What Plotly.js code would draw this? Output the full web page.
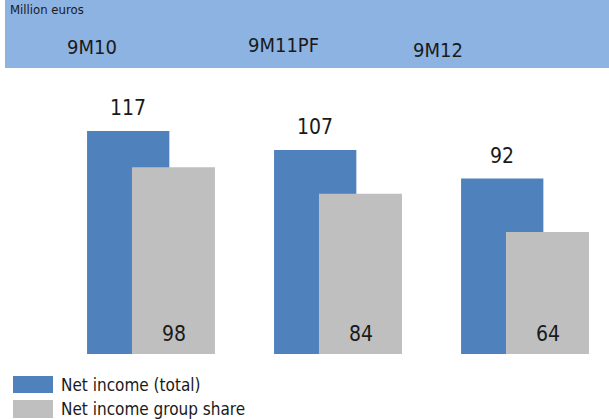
<!DOCTYPE html>
<html><head><meta charset="utf-8">
<script src="https://cdn.plot.ly/plotly-3.0.1.min.js"></script>
<style>html,body{margin:0;padding:0;background:#fff;}#chart{width:609px;height:419px;}</style>
</head><body><div id="chart"></div>
<script>
var categories = ['9M10', '9M11PF', '9M12'];
var seriesNames = ['Net income (total)', 'Net income group share'];
var totalValues = [117, 107, 92];
var groupShareValues = [98, 84, 64];
var unitLabel = 'Million euros';

var FONT = '"DejaVu Sans Condensed", "Liberation Sans Narrow", sans-serif';
var BLUE = '#4f81bd', GRAY = '#bfbfbf', TXT = '#1a1a1a';

var traces = [
  {type:'bar', x:categories, y:totalValues, name:seriesNames[0], marker:{color:BLUE},
   offset:-0.342, width:0.44, hoverinfo:'skip'},
  {type:'bar', x:categories, y:groupShareValues, name:seriesNames[1], marker:{color:GRAY},
   offset:-0.102, width:0.444, hoverinfo:'skip'}
];

var headerX = [92, 283, 438];
var headerY = [47, 45, 50];
var ann = [];
categories.forEach(function(c, i){
  ann.push({xref:'paper', yref:'paper', x:headerX[i]/609, y:1-headerY[i]/419, text:c, showarrow:false,
    xanchor:'center', yanchor:'middle', font:{family:FONT, size:20, color:TXT}});
  ann.push({x:c, y:totalValues[i], text:String(totalValues[i]), showarrow:false, xshift:-23, yshift:9,
    xanchor:'center', yanchor:'bottom', font:{family:FONT, size:21, color:TXT}});
  ann.push({x:c, y:0, text:String(groupShareValues[i]), showarrow:false, xshift:22.5, yshift:6,
    xanchor:'center', yanchor:'bottom', font:{family:FONT, size:21, color:TXT}});
});
ann.push({xref:'paper', yref:'paper', x:8/609, y:1, text:unitLabel, showarrow:false,
  xanchor:'left', yanchor:'top', font:{family:FONT, size:13, color:TXT}});
ann.push({xref:'paper', yref:'paper', x:59/609, y:1-384.5/419, text:seriesNames[0], showarrow:false,
  xanchor:'left', yanchor:'middle', font:{family:FONT, size:17, color:TXT}});
ann.push({xref:'paper', yref:'paper', x:59/609, y:1-409/419, text:seriesNames[1], showarrow:false,
  xanchor:'left', yanchor:'middle', font:{family:FONT, size:17, color:TXT}});

var shapes = [
  {type:'rect', xref:'paper', yref:'paper', x0:5/609, x1:1, y0:1-68/419, y1:1, fillcolor:'#8db3e2', line:{width:0}, layer:'below'},
  {type:'rect', xref:'paper', yref:'paper', x0:13/609, x1:53/609, y0:1-393/419, y1:1-376/419, fillcolor:BLUE, line:{width:0}},
  {type:'rect', xref:'paper', yref:'paper', x0:13/609, x1:53/609, y0:1-418/419, y1:1-400/419, fillcolor:GRAY, line:{width:0}}
];

var layout = {
  width:609, height:419, margin:{l:0,r:0,t:0,b:0},
  paper_bgcolor:'#fff', plot_bgcolor:'rgba(0,0,0,0)',
  barmode:'overlay', showlegend:false,
  xaxis:{type:'category', range:[-0.8075, 2.449], visible:false, fixedrange:true},
  yaxis:{range:[-34.1, 185.7], visible:false, fixedrange:true},
  annotations:ann, shapes:shapes
};
Plotly.newPlot('chart', traces, layout, {staticPlot:true, displayModeBar:false});
</script></body></html>
